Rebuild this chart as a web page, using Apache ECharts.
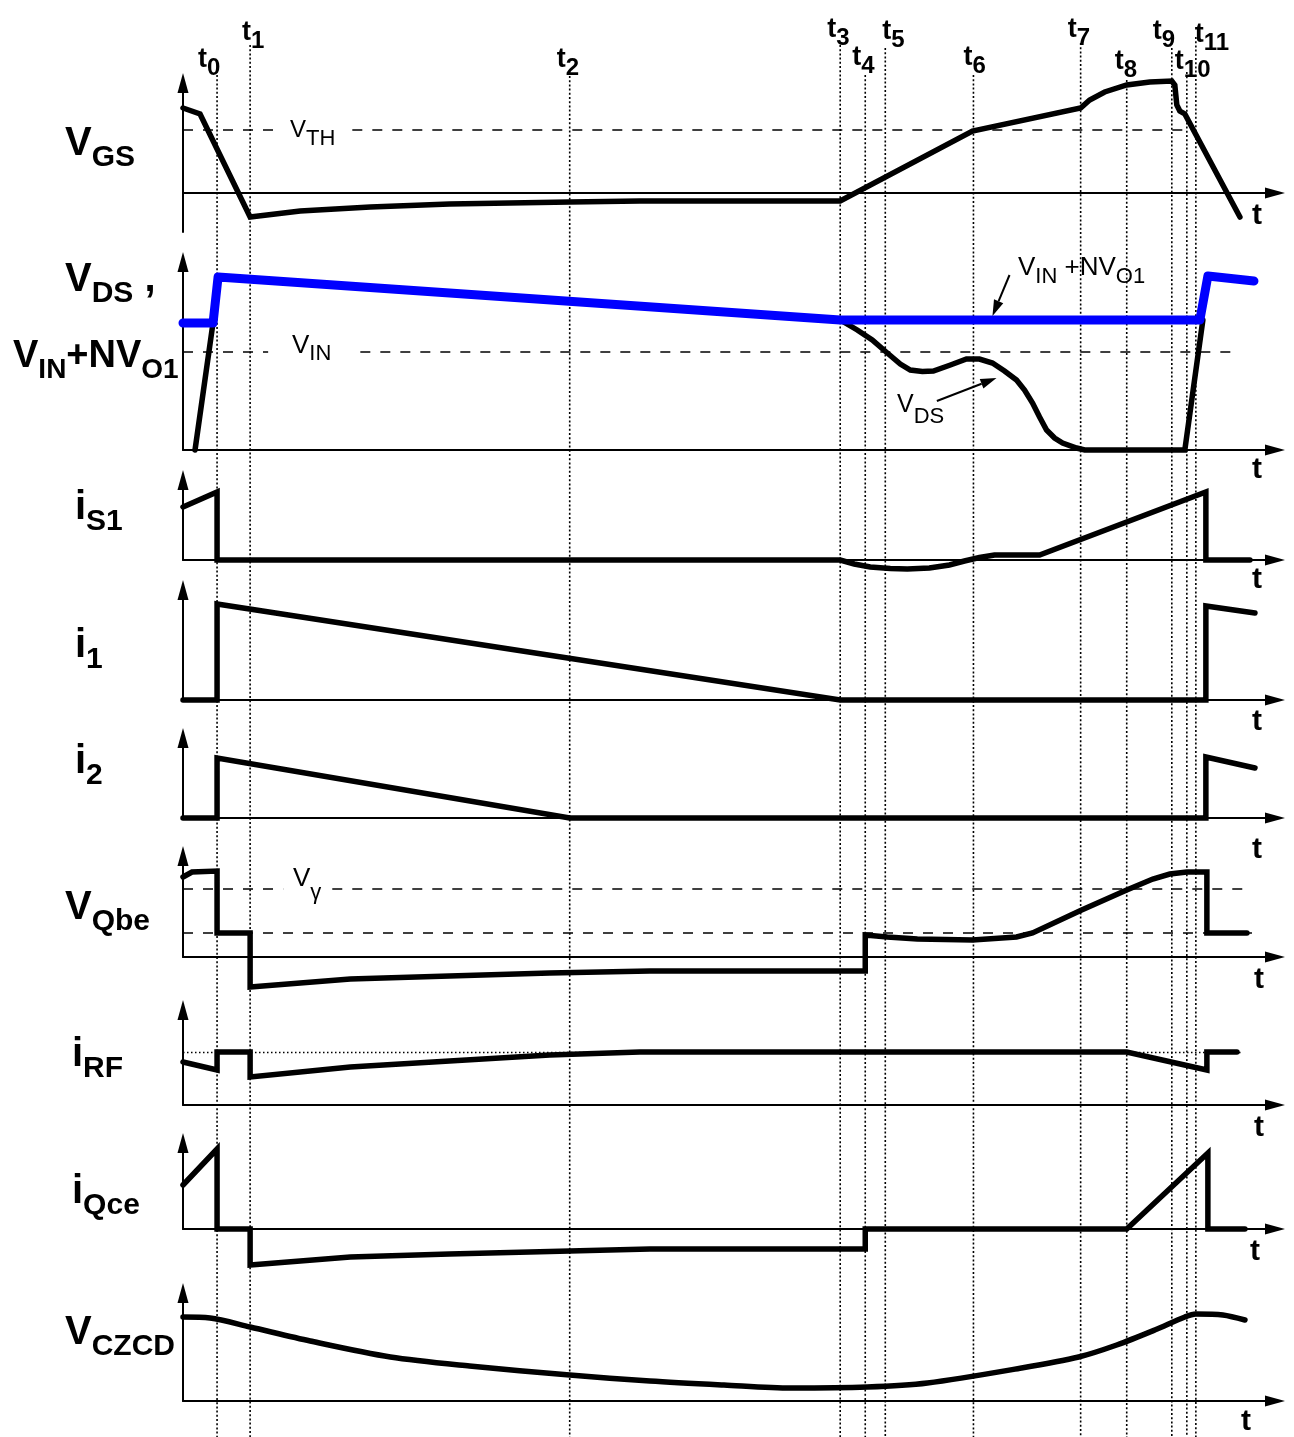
<!DOCTYPE html>
<html>
<head>
<meta charset="utf-8">
<title>Switching waveforms</title>
<script src="https://cdn.jsdelivr.net/npm/echarts@6/dist/echarts.min.js"></script>
<style>
html, body { margin: 0; padding: 0; background: #fff; }
#chart { width: 1294px; height: 1437px; }
</style>
</head>
<body>
<div id="chart"></div>
<script>
// ---------- switching instants t0 ... t11 (time units) ----------
const eventTimes = [3.4, 6.7, 38.6, 65.6, 68.1, 70.1, 78.9, 89.6, 94.2, 98.7, 100.2, 101.1];
const eventNames = ['0', '1', '2', '3', '4', '5', '6', '7', '8', '9', '10', '11'];

// ---------- waveforms, [time, value] ----------
const vGS = [[0, 8.5], [1.7, 7.9], [6.7, -2.4], [11.7, -1.8], [18.7, -1.4], [26.6, -1.1], [38.6, -0.9],
  [45.6, -0.8], [65.6, -0.8], [78.8, 6.2], [89.6, 8.5], [90.5, 9.3], [92.0, 10.1], [94.2, 10.8],
  [96.5, 11.1], [98.7, 11.2], [99.0, 10.8], [99.2, 8.8], [99.5, 8.2], [100.0, 7.9], [105.5, -2.4]];
const vTH = 6.3;

const vDS = [[1.2, 0], [3.25, 14.5], [3.5, 17.3], [65.6, 13.0], [67.3, 12.0], [68.8, 11.0], [70.3, 9.7],
  [71.6, 8.6], [72.6, 8.0], [73.8, 7.85], [74.9, 7.9], [76.6, 8.5], [78.2, 9.1], [79.5, 9.1],
  [80.8, 8.7], [82.0, 7.9], [83.2, 7.0], [84.0, 6.0], [84.8, 4.7], [85.5, 3.3], [86.2, 2.0],
  [87.0, 1.2], [87.8, 0.7], [89.2, 0.2], [90.0, 0], [100.0, 0], [101.8, 13.0]];
const vClamp = [[0, 12.7], [3.0, 12.7], [3.5, 17.3], [65.6, 13.0], [101.5, 13.0], [102.3, 17.4], [106.9, 16.9]];
const vIN = 9.8;

const iS1 = [[0, 5.3], [3.4, 6.8], [3.4, 0], [65.6, 0], [67.0, -0.4], [68.6, -0.7], [70.6, -0.85],
  [72.3, -0.9], [74.5, -0.8], [76.5, -0.5], [78.0, -0.1], [79.5, 0.25], [81.0, 0.5], [85.5, 0.5],
  [102.1, 6.8], [102.1, 0], [106.5, 0]];
const i1 = [[0, 0], [3.4, 0], [3.4, 9.6], [65.6, 0], [102.1, 0], [102.1, 9.4], [107.0, 8.7]];
const i2 = [[0, 0], [3.4, 0], [3.4, 6.0], [38.6, 0], [102.1, 0], [102.1, 6.1], [107.0, 5.0]];

const vQbe = [[0, 8.0], [0.9, 8.5], [3.4, 8.6], [3.4, 2.4], [6.7, 2.4], [6.7, -3.0], [16.7, -2.2],
  [26.6, -1.9], [36.6, -1.6], [46.6, -1.4], [68.1, -1.4], [68.1, 2.2], [70.3, 2.0], [73.3, 1.8],
  [78.8, 1.7], [83.2, 2.0], [84.8, 2.4], [89.7, 4.7], [94.2, 6.7], [96.8, 7.8], [98.5, 8.3],
  [100.2, 8.5], [102.2, 8.5], [102.2, 2.4], [106.2, 2.4]];
const vGamma = 6.8;
const vQbeOn = 2.4;

const iRF = [[0, 4.3], [3.4, 3.5], [3.4, 5.3], [6.7, 5.3], [6.7, 2.8], [16.7, 3.8], [26.6, 4.4],
  [36.6, 5.0], [45.6, 5.3], [94.2, 5.3], [102.2, 3.5], [102.2, 5.3], [105.2, 5.3]];
const iRFlevel = 5.3;

const iQce = [[0, 4.4], [3.4, 8.0], [3.4, 0], [6.7, 0], [6.7, -3.6], [16.7, -2.8], [26.6, -2.5],
  [38.6, -2.2], [46.6, -2.0], [68.1, -2.0], [68.1, 0], [94.2, 0], [102.3, 7.6], [102.3, 0], [106.0, 0]];

const vCZCD = [[0, 8.4], [2.7, 8.3], [6.7, 7.4], [12.7, 6.0], [20.7, 4.4], [28.6, 3.5], [38.6, 2.6],
  [46.6, 2.0], [54.0, 1.6], [60.7, 1.3], [68.3, 1.4], [74.3, 1.8], [83.7, 3.3], [89.4, 4.4],
  [93.2, 5.6], [97.0, 7.1], [100.0, 8.4], [101.1, 8.7], [103.8, 8.6], [106.0, 8.1]];

// annotation arrows in the V_DS panel: [tailT, tailV, headT, headV]
const vdsArrows = [[82.5, 17.5, 80.8, 13.4], [75.25, 4.9, 81.2, 7.2]];

// ---------- layout ----------
const H = 1437;
const FONT = '"Liberation Sans", Arial, Helvetica, sans-serif';
const T_MAX = 109;
const PLOT_LEFT = 183, PLOT_RIGHT = 19;

const panels = [
  { top: 83,   height: 149, min: -3.9, max: 11.0 },
  { top: 262,  height: 188, min: 0, max: 18.8 },
  { top: 480,  height: 80,  min: 0, max: 8.0 },
  { top: 590,  height: 110, min: 0, max: 11.0 },
  { top: 738,  height: 80,  min: 0, max: 8.0 },
  { top: 856,  height: 101, min: 0, max: 10.1 },
  { top: 1010, height: 95,  min: 0, max: 9.5 },
  { top: 1143, height: 86,  min: 0, max: 8.6 },
  { top: 1293, height: 108, min: 0, max: 10.8 }
];

// dotted instant markers: top end of each line and label placement
const markerTop = [75, 45, 76, 45, 75, 48, 75, 43, 80, 48, 72, 37];
const labelTop = [50, 23, 50, 20, 48, 22, 48, 20, 52, 22, 52, 25];
const labelShift = [-19, -8, -13, -13, -13, -3, -10, -13, -12, -19, -12, -1];

function tok(size, bold, padTop) {
  const w = bold ? 'bold ' : '';
  return {
    font: w + size + 'px ' + FONT, fontSize: size, fontWeight: bold ? 'bold' : 'normal', fontFamily: FONT,
    lineHeight: size, padding: [padTop || 0, 0, 0, 0], verticalAlign: 'top', fill: '#000', color: '#000'
  };
}
function txt(x, y, str, rich) {
  return {
    type: 'text', x: x, y: y, silent: true, z: 100,
    style: { text: str, rich: rich, fill: '#000', align: 'left', verticalAlign: 'top',
      textAlign: 'left', textVerticalAlign: 'top', font: 'bold 40px ' + FONT }
  };
}

const nameRich = { m: tok(40, true), s: tok(30, true, 19), m2: tok(38, true), s2: tok(28, true, 18) };
const evRich = { a: tok(27, true), b: tok(24, true, 10) };

const axisStyle = { color: '#000', width: 2 };
const grids = [], xAxes = [], yAxes = [];
panels.forEach((p, i) => {
  grids.push({ left: PLOT_LEFT, right: PLOT_RIGHT, top: p.top, height: p.height, containLabel: false, outerBoundsMode: 'none' });
  xAxes.push({
    type: 'value', gridIndex: i, min: 0, max: T_MAX,
    axisLine: { show: true, onZero: true, symbol: ['none', 'triangle'], symbolSize: [11, 20], lineStyle: axisStyle },
    axisTick: { show: false }, axisLabel: { show: false }, splitLine: { show: false }
  });
  yAxes.push({
    type: 'value', gridIndex: i, min: p.min, max: p.max,
    axisLine: { show: true, onZero: false, symbol: ['none', 'triangle'], symbolSize: [11, 20], lineStyle: axisStyle },
    axisTick: { show: false }, axisLabel: { show: false }, splitLine: { show: false }
  });
});
// full-height overlay for the instant markers
grids.push({ left: PLOT_LEFT, right: PLOT_RIGHT, top: 0, bottom: 0, containLabel: false, outerBoundsMode: 'none' });
xAxes.push({ type: 'value', gridIndex: 9, min: 0, max: T_MAX, show: false });
yAxes.push({ type: 'value', gridIndex: 9, min: 0, max: 1, show: false });

function refLines(levels, dash, width) {
  const data = [];
  levels.forEach(([v, spans]) => spans.forEach(([a, b]) => data.push([{ coord: [a, v] }, { coord: [b, v] }])));
  return {
    silent: true, symbol: 'none', animation: false, label: { show: false },
    emphasis: { disabled: true },
    lineStyle: { color: '#000', type: dash, width: width, opacity: 1 }, data: data
  };
}

function wave(idx, data, extra) {
  return Object.assign({
    type: 'line', xAxisIndex: idx, yAxisIndex: idx, data: data, showSymbol: false, symbol: 'none',
    clip: false, silent: true, animation: false, z: 3,
    lineStyle: { color: '#000', width: 5.5, cap: 'round', join: 'miter', miterLimit: 4 },
    emphasis: { disabled: true }
  }, extra || {});
}

const dashed = [10, 10];
const series = [
  {
    type: 'custom', xAxisIndex: 9, yAxisIndex: 9, silent: true, z: 1, animation: false,
    data: eventTimes.map(t => [t, 0]),
    renderItem(params, api) {
      const x = api.coord([api.value(0), 0])[0];
      return {
        type: 'line', shape: { x1: x, y1: markerTop[params.dataIndex], x2: x, y2: H },
        style: { stroke: '#000', lineWidth: 1.6, lineDash: [2, 2.2] }
      };
    }
  },
  wave(0, vGS, { markLine: refLines([[vTH, [[0, 9.9], [16.9, 100.0]]]], dashed, 1.5) }),
  wave(1, vDS, { markLine: refLines([[vIN, [[0, 8.5], [17.7, 104.8]]]], dashed, 1.5) }),
  wave(1, vClamp, { z: 4, lineStyle: { color: '#0000ff', width: 9, cap: 'round', join: 'round' } }),
  {
    type: 'custom', xAxisIndex: 1, yAxisIndex: 1, silent: true, z: 5, animation: false,
    data: vdsArrows,
    renderItem(params, api) {
      const a = api.coord([api.value(0), api.value(1)]);
      const b = api.coord([api.value(2), api.value(3)]);
      const ang = Math.atan2(b[1] - a[1], b[0] - a[0]);
      const L = 16, Wd = 5;
      const base = [b[0] - L * Math.cos(ang), b[1] - L * Math.sin(ang)];
      const p1 = [base[0] + Wd * Math.sin(ang), base[1] - Wd * Math.cos(ang)];
      const p2 = [base[0] - Wd * Math.sin(ang), base[1] + Wd * Math.cos(ang)];
      return {
        type: 'group', children: [
          { type: 'line', shape: { x1: a[0], y1: a[1], x2: base[0], y2: base[1] }, style: { stroke: '#000', lineWidth: 2 } },
          { type: 'polygon', shape: { points: [b, p1, p2] }, style: { fill: '#000' } }
        ]
      };
    }
  },
  wave(2, iS1),
  wave(3, i1),
  wave(4, i2),
  wave(5, vQbe, { markLine: refLines([[vGamma, [[0, 10.0], [14.9, 106.7]]], [vQbeOn, [[0, 106.7]]]], dashed, 1.5) }),
  wave(6, iRF, { markLine: refLines([[iRFlevel, [[0, 105.8]]]], [1.5, 2.5], 1.3) }),
  wave(7, iQce),
  wave(8, vCZCD, { smooth: 0.3 })
];

const chart = echarts.init(document.getElementById('chart'), null, { renderer: 'canvas' });
chart.setOption({
  animation: false,
  backgroundColor: '#fff',
  grid: grids, xAxis: xAxes, yAxis: yAxes, series: series
});

// ---------- text ----------
const g = [];
// signal names
g.push(txt(65, 124, '{m|V}{s|GS}', nameRich));
g.push(txt(65, 260, '{m|V}{s|DS}{m| ,}', nameRich));
g.push(txt(13, 338, '{m2|V}{s2|IN}{m2|+NV}{s2|O1}', nameRich));
g.push(txt(75, 488, '{m|i}{s|S1}', nameRich));
g.push(txt(75, 626, '{m|i}{s|1}', nameRich));
g.push(txt(75, 742, '{m|i}{s|2}', nameRich));
g.push(txt(65, 888, '{m|V}{s|Qbe}', nameRich));
g.push(txt(72, 1035, '{m|i}{s|RF}', nameRich));
g.push(txt(72, 1172, '{m|i}{s|Qce}', nameRich));
g.push(txt(65, 1313, '{m|V}{s|CZCD}', nameRich));

// time-axis letters
[[1252, 201], [1252, 455], [1252, 565], [1252, 707], [1252, 835], [1254, 965], [1254, 1113], [1250, 1237], [1241, 1407]]
  .forEach(([x, y]) => g.push(txt(x, y, '{t|t}', { t: tok(30, true) })));

// instant labels
eventTimes.forEach((t, i) => {
  const px = chart.convertToPixel({ xAxisIndex: 9 }, t);
  g.push(txt(px + labelShift[i], labelTop[i] - 4, '{a|t}{b|' + eventNames[i] + '}', evRich));
});

// level and curve annotations
g.push(txt(290, 118, '{a|V}{b|TH}', { a: tok(24, false), b: tok(22, false, 10) }));
g.push(txt(292, 333, '{a|V}{b|IN}', { a: tok(26, false), b: tok(22, false, 10) }));
g.push(txt(293, 866, '{a|V}{b|γ}', { a: tok(26, false), b: tok(22, false, 16) }));
g.push(txt(897, 393, '{a|V}{b|DS}', { a: tok(25, false), b: tok(22, false, 13) }));
g.push(txt(1018, 255, '{a|V}{b|IN}{a| +NV}{b|O1}', { a: tok(26, false), b: tok(22, false, 11) }));

chart.setOption({ graphic: { elements: g } });
</script>
</body>
</html>
